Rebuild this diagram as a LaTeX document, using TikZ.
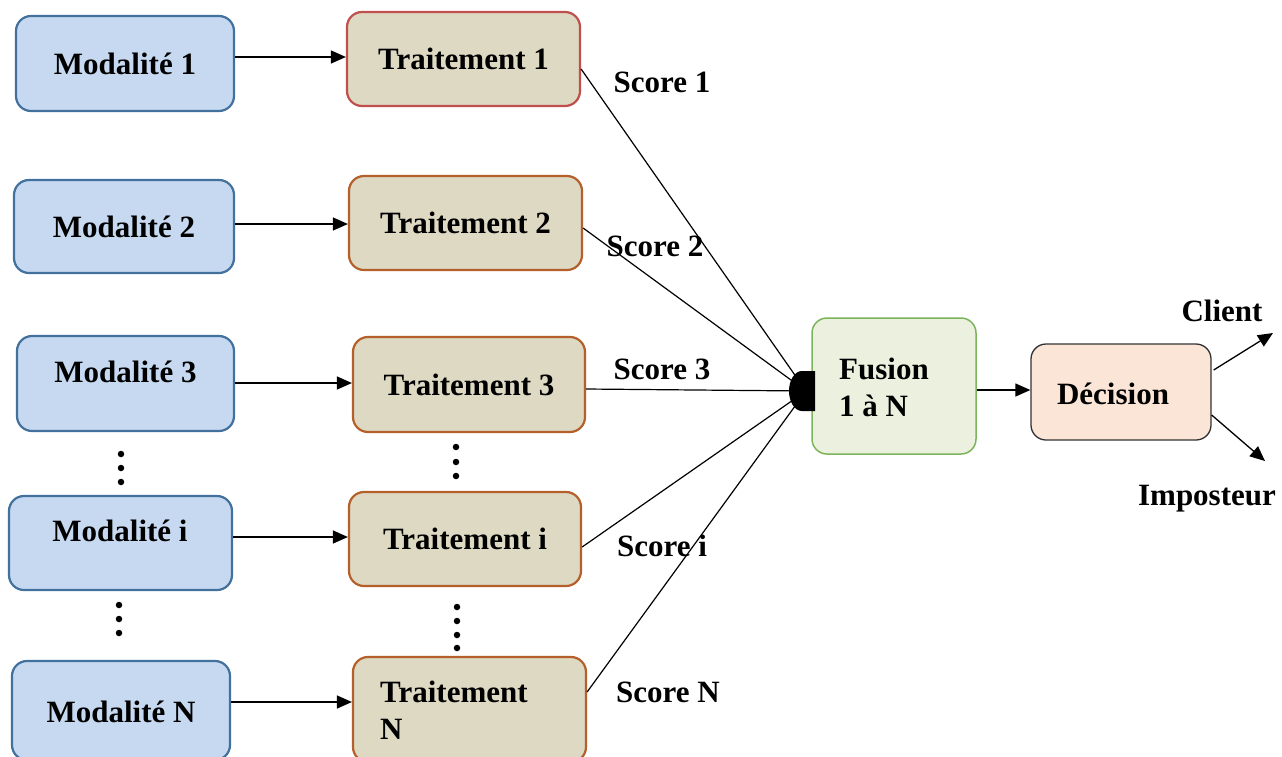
\documentclass[tikz,border=0pt]{standalone}
\usepackage{fontspec}
\setmainfont{Liberation Serif}
\usetikzlibrary{arrows.meta}
\definecolor{modfill}{HTML}{C6D9F1}
\definecolor{moddraw}{HTML}{41719C}
\definecolor{trfill}{HTML}{DDD9C3}
\definecolor{trred}{HTML}{C0504D}
\definecolor{trdraw}{HTML}{B5602A}
\definecolor{fusfill}{HTML}{EBF1DE}
\definecolor{fusdraw}{HTML}{7AB55C}
\definecolor{decfill}{HTML}{FBE5D6}
\definecolor{decdraw}{HTML}{333333}
\tikzset{
  txt/.style={font=\bfseries\fontsize{31}{37}\selectfont, inner sep=0pt},
  box/.style={txt, rounded corners=15pt, line width=2.2pt, inner sep=0pt},
  modbox/.style={box, fill=modfill, draw=moddraw},
  trbox/.style={box, fill=trfill, draw=trdraw},
  arr/.style={line width=1.3pt, -{Triangle[length=15pt,width=13pt]}},
  link/.style={line width=1.2pt},
  dotm/.style={circle, fill=black, inner sep=0pt, minimum size=6.5pt},
}
\begin{document}
\begin{tikzpicture}[x=1pt,y=-1pt]
\useasboundingbox (0,0) rectangle (1282,756);
\clip (0,0) rectangle (1282,756);
\fill[white] (0,0) rectangle (1282,756);

% Modalite boxes
\node[modbox, minimum width=218pt, minimum height=95pt] (m1) at (125,63.5) {Modalité 1};
\node[modbox, minimum width=220pt, minimum height=93pt] (m2) at (124,226.5) {Modalité 2};
\node[modbox, minimum width=217pt, minimum height=95pt,
      label={[txt,yshift=12pt]center:Modalité 3}] (m3) at (125.5,383.5) {};
\node[modbox, minimum width=223pt, minimum height=94pt,
      label={[txt,yshift=12pt,xshift=-0.5pt]center:Modalité i}] (mi) at (120.5,543) {};
\node[modbox, minimum width=218pt, minimum height=99pt,
      label={[txt,yshift=-1pt]center:Modalité N}] (mN) at (121,710.5) {};

% Traitement boxes
\node[box, fill=trfill, draw=trred, minimum width=233pt, minimum height=94pt] (t1) at (463.5,59) {Traitement 1};
\node[trbox, minimum width=233pt, minimum height=94pt] (t2) at (465.5,223) {Traitement 2};
\node[trbox, minimum width=232pt, minimum height=95pt] (t3) at (469,384.5) {Traitement 3};
\node[trbox, minimum width=232pt, minimum height=94pt] (ti) at (465,539) {Traitement i};
\node[trbox, minimum width=233pt, minimum height=105pt] (tN) at (469.5,709.5) {};
\node[txt, anchor=west, align=left] (tNtxt) at (380,710) {Traitement\\N};

% dots
\node[dotm] (d1) at (121,454) {};
\node[dotm] (d2) at (121,468) {};
\node[dotm] (d3) at (121,482) {};
\node[dotm] (d4) at (456,447) {};
\node[dotm] (d5) at (456,462) {};
\node[dotm] (d6) at (456,476) {};
\node[dotm] (d7) at (119,605) {};
\node[dotm] (d8) at (119,619) {};
\node[dotm] (d9) at (119,633) {};
\node[dotm] (d10) at (457,607) {};
\node[dotm] (d11) at (457,621) {};
\node[dotm] (d12) at (457,635) {};
\node[dotm] (d13) at (457,648) {};

% arrows modalite -> traitement
\draw[arr] ([yshift=6.5pt]m1.east) -- ([yshift=2pt]t1.west);
\draw[arr] ([yshift=2.5pt]m2.east) -- ([yshift=-1pt]t2.west);
\draw[arr] ([yshift=0.5pt]m3.east) -- ([yshift=1.5pt]t3.west);
\draw[arr] ([yshift=6pt]mi.east) -- ([yshift=2pt]ti.west);
\draw[arr] ([yshift=8.5pt]mN.east) -- ([yshift=7.5pt]tN.west);

% Fusion
\node[box, fill=fusfill, draw=fusdraw, line width=1.5pt, minimum width=164pt, minimum height=136pt] (fus) at (894,386) {};
\node[txt, anchor=west, align=left] (fustxt) at (839,387.5) {Fusion\\1 à N};
\coordinate (fz) at (806,391);

% score links
\draw[link] ([yshift=-10pt]t1.east) -- (fz);
\draw[link] ([yshift=-5pt]t2.east) -- (fz);
\draw[link] ([yshift=-4.5pt]t3.east) -- (fz);
\draw[link] ([yshift=-8pt]ti.east) -- (fz);
\draw[link] ([yshift=17.5pt]tN.east) -- (fz);

% D-shaped connector
\fill[black] (815,371) -- (802,371) arc[start angle=-90, end angle=-270, x radius=13, y radius=20] -- (815,411) -- cycle;

% score labels
\node[txt] (s1) at (662,82) {Score 1};
\node[txt] (s2) at (655,246) {Score 2};
\node[txt] (s3) at (662,369) {Score 3};
\node[txt] (si) at (662,546) {Score i};
\node[txt] (sN) at (668,692) {Score N};

% Decision
\node[box, fill=decfill, draw=decdraw, line width=1.3pt, minimum width=180pt, minimum height=96pt,
      label={[txt,xshift=-8pt,yshift=-2pt]center:Décision}] (dec) at (1121,392) {};
\draw[arr] ([yshift=-4pt]fus.east) -- ([yshift=2pt]dec.west);

\coordinate (cl) at (1273,333);
\coordinate (im) at (1265,461);
\draw[arr] ([xshift=2pt,yshift=22pt]dec.east) -- (cl);
\draw[arr] ([yshift=-23pt]dec.east) -- (im);
\node[txt] (client) at (1222,311) {Client};
\node[txt] (imp) at (1207,499) {Imposteur};
\end{tikzpicture}
\end{document}
